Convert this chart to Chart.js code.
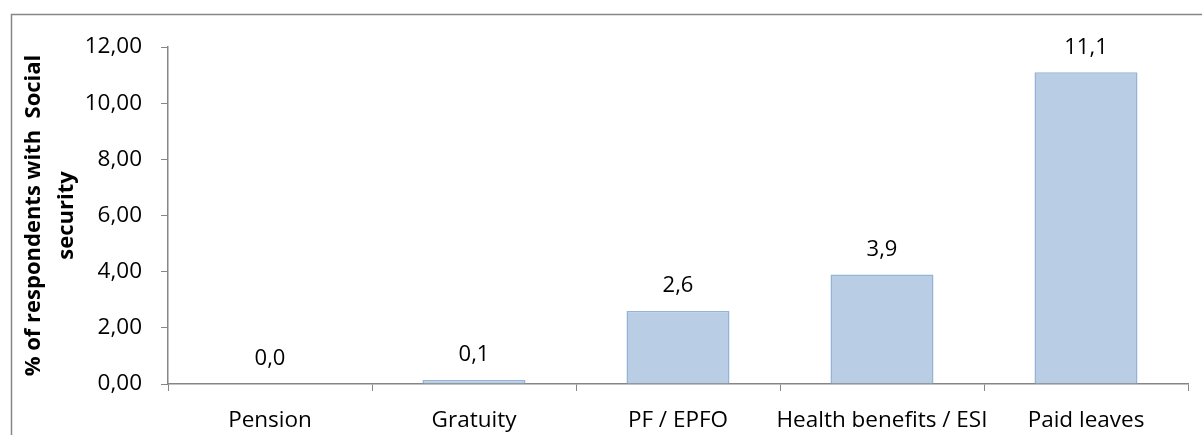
<!DOCTYPE html>
<html lang="en">
<head>
    <meta charset="UTF-8">
    <title>Social security chart</title>
    <style>
        html, body {
            margin: 0;
            padding: 0;
            background: #ffffff;
        }
        #chartContainer {
            position: relative;
            width: 1202px;
            height: 435px;
        }
    </style>
</head>
<body>
    <div id="chartContainer">
        <canvas id="socialChart"></canvas>
    </div>

    <script src="https://cdn.jsdelivr.net/npm/chart.js"></script>
    <script>
        // chart data
        const categories = ['Pension', 'Gratuity', 'PF / EPFO', 'Health benefits / ESI', 'Paid leaves'];
        const shareValues = [0.0, 0.14, 2.6, 3.9, 11.1];
        const shareLabels = ['0,0', '0,1', '2,6', '3,9', '11,1'];
        const yTicks = [0, 2, 4, 6, 8, 10, 12];
        const yTitle = ['% of respondents with  Social', 'security'];

        const axisGray = '#868686';
        const fontFamily = "'Open Sans', 'Noto Sans', sans-serif";

        // outer frame like the office chart box
        const framePlugin = {
            id: 'frame',
            beforeDraw(chart) {
                const c = chart.ctx;
                c.save();
                c.strokeStyle = axisGray;
                c.lineWidth = 1.5;
                c.strokeRect(11.5, 14.5, 1400, 600);
                c.restore();
            }
        };

        // value labels above bars
        const valueLabels = {
            id: 'valueLabels',
            afterDatasetsDraw(chart) {
                const c = chart.ctx;
                const meta = chart.getDatasetMeta(0);
                c.save();
                c.font = '22px ' + fontFamily;
                c.fillStyle = '#000000';
                c.textAlign = 'center';
                c.textBaseline = 'middle';
                meta.data.forEach((bar, i) => {
                    c.fillText(shareLabels[i], bar.x, bar.y - 25);
                });
                c.restore();
            }
        };

        const ctx = document.getElementById('socialChart').getContext('2d');
        const chart = new Chart(ctx, {
            type: 'bar',
            data: {
                labels: categories,
                datasets: [{
                    data: shareValues,
                    backgroundColor: '#B9CDE5',
                    borderColor: '#95B3D7',
                    borderWidth: 1.5,
                    categoryPercentage: 1.0,
                    barPercentage: 0.505
                }]
            },
            options: {
                responsive: true,
                maintainAspectRatio: false,
                animation: false,
                layout: {
                    padding: { left: 0, top: 47, right: 14, bottom: 0 }
                },
                plugins: {
                    legend: { display: false },
                    tooltip: { enabled: false }
                },
                scales: {
                    x: {
                        grid: {
                            display: true,
                            drawOnChartArea: false,
                            drawTicks: true,
                            tickLength: 7,
                            color: axisGray,
                            offset: true
                        },
                        border: { color: axisGray, width: 1.5 },
                        ticks: {
                            color: '#000000',
                            font: { family: fontFamily, size: 22.5 },
                            padding: 16,
                            maxRotation: 0,
                            autoSkip: false
                        },
                        afterFit(scale) {
                            scale.height = 51;
                        }
                    },
                    y: {
                        min: 0,
                        max: 12,
                        grid: {
                            display: true,
                            drawOnChartArea: false,
                            drawTicks: true,
                            tickLength: 7,
                            color: axisGray
                        },
                        border: { color: axisGray, width: 1.5 },
                        afterBuildTicks(scale) {
                            scale.ticks = yTicks.map(v => ({ value: v }));
                        },
                        ticks: {
                            color: '#000000',
                            font: { family: fontFamily, size: 22.5 },
                            padding: 19,
                            callback: v => v.toFixed(2).replace('.', ',')
                        },
                        title: {
                            display: true,
                            text: yTitle,
                            color: '#000000',
                            font: { family: fontFamily, size: 22, weight: 'bold', lineHeight: 1.5 },
                            padding: { top: 17, bottom: 0 }
                        },
                        afterFit(scale) {
                            scale.width = 168;
                        }
                    }
                }
            },
            plugins: [framePlugin, valueLabels]
        });
    </script>
</body>
</html>
